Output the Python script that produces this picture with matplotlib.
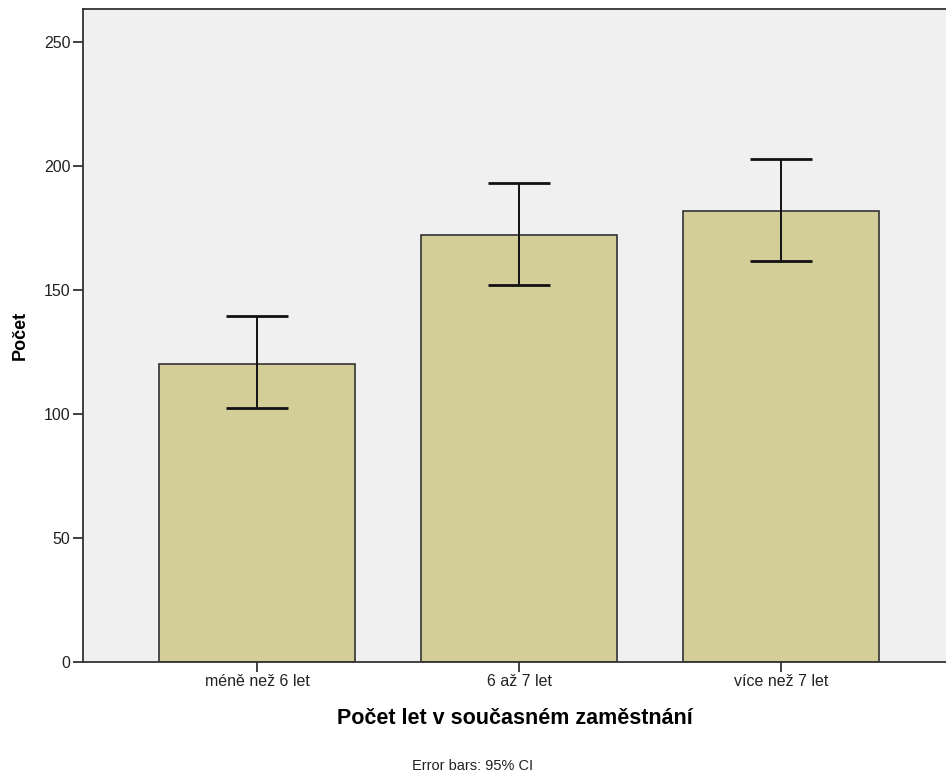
import numpy as np
from matplotlib import pyplot as plt

# data
categories = ["méně než 6 let", "6 až 7 let", "více než 7 let"]
counts = [120, 172, 182]
ci_low = [102.4, 152.0, 161.7]
ci_high = [139.4, 193.0, 203.0]
y_ticks = [0, 50, 100, 150, 200, 250]

plt.rcParams['font.family'] = ['Liberation Sans', 'DejaVu Sans']

fig = plt.figure(figsize=(9.46, 7.78), dpi=100)
ax = fig.add_axes([83 / 946, 116 / 778, 863 / 946, 653 / 778])
ax.set_facecolor("#F0F0F0")

x = np.arange(len(categories))
counts_arr = np.array(counts)
yerr = np.array([counts_arr - np.array(ci_low), np.array(ci_high) - counts_arr])

ax.bar(x, counts, width=0.75, color="#D3CE97", edgecolor="#333333", linewidth=1.2, zorder=2)
ax.errorbar(x, counts, yerr=yerr, fmt="none", ecolor="#111111", elinewidth=1.4,
            capsize=22, capthick=2.0, zorder=3)

ax.set_xlim(-0.665, 2.63)
ax.set_ylim(0, 263.3)
ax.set_yticks(y_ticks)
ax.set_xticks(x)
ax.set_xticklabels(categories)

ax.spines["right"].set_visible(False)
for side in ["left", "top", "bottom"]:
    ax.spines[side].set_linewidth(1.3)
    ax.spines[side].set_color("#333333")

ax.tick_params(axis="both", length=7.5, width=1.3, color="#333333", labelsize=11.5,
               labelcolor="#222222", pad=1.5)

ax.set_ylabel("Počet", fontsize=13, fontweight="bold", labelpad=11)
ax.set_xlabel("Počet let v současném zaměstnání", fontsize=15.5, fontweight="bold", labelpad=13)

fig.text(473 / 946, 1 - 766 / 778, "Error bars: 95% CI", fontsize=10.5, ha="center", va="center",
         color="#222222")

fig.savefig("out.png", dpi=100)
